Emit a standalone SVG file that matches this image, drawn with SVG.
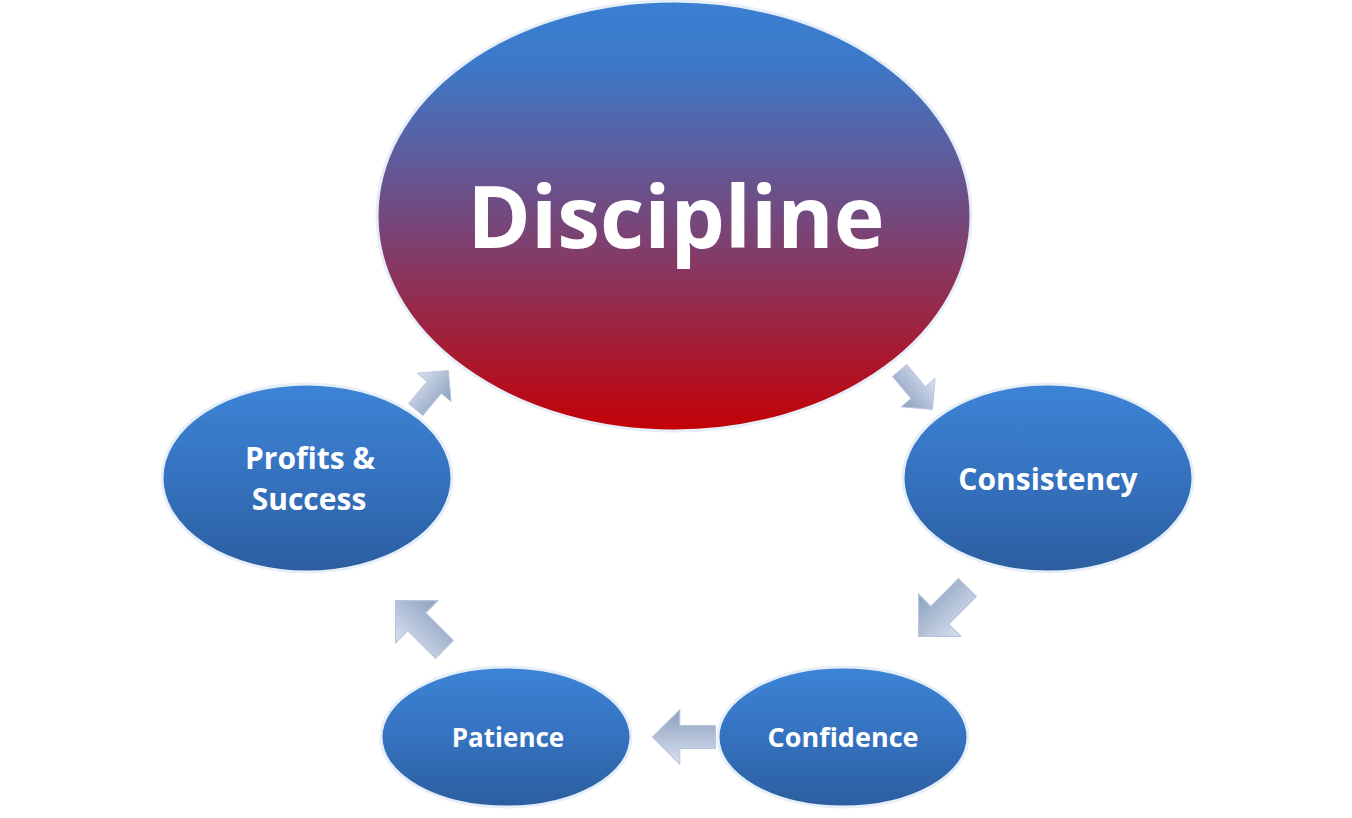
<svg xmlns="http://www.w3.org/2000/svg" width="1352" height="818" viewBox="0 0 1352 818">
<defs>
<linearGradient id="gBig" x1="0" y1="0" x2="0" y2="1">
<stop offset="0" stop-color="#3a80d2"/><stop offset="0.15" stop-color="#3d78c8"/><stop offset="0.5" stop-color="#74497e"/><stop offset="1" stop-color="#c40006"/>
</linearGradient>
<linearGradient id="gBlue" x1="0" y1="0" x2="0" y2="1">
<stop offset="0" stop-color="#3d84d6"/><stop offset="0.5" stop-color="#3572bf"/><stop offset="1" stop-color="#2b5e9f"/>
</linearGradient>
<linearGradient id="gArr" x1="0" y1="0" x2="0" y2="1">
<stop offset="0" stop-color="#d8e1ee"/><stop offset="1" stop-color="#8c9fbf"/>
</linearGradient>
<path id="arr" d="M-30,-11 L4,-11 L4,-26 L30,0 L4,26 L4,11 L-30,11 Z"/>
</defs>
<style>
.node{stroke:#e6eef8;stroke-width:3}
.t{font-family:"Open Sans","Liberation Sans",sans-serif;font-weight:bold;fill:#fff;text-anchor:middle}
.a{fill:url(#gArr);stroke:#b8c6dc;stroke-width:1}
</style>
<rect width="1352" height="818" fill="#fff"/>
<g id="connectors">
<use href="#arr" class="a" transform="translate(916,390) rotate(50) scale(0.85)"/>
<use href="#arr" class="a" transform="translate(943,612) rotate(135) scale(1.15)"/>
<use href="#arr" class="a" transform="translate(684,737) rotate(180) scale(1.05)"/>
<use href="#arr" class="a" transform="translate(420,625) rotate(-135) scale(1.15)"/>
<use href="#arr" class="a" transform="translate(432,390) rotate(-50) scale(0.85)"/>
</g>
<g id="discipline"><ellipse class="node" cx="674" cy="216" rx="297" ry="215" fill="url(#gBig)"/>
<text class="t" x="676" y="248" font-size="86">Discipline</text></g>
<g id="consistency"><ellipse class="node" cx="1048" cy="478" rx="145" ry="94" fill="url(#gBlue)"/>
<text class="t" x="1048" y="490" font-size="30">Consistency</text></g>
<g id="confidence"><ellipse class="node" cx="843" cy="737" rx="125" ry="70" fill="url(#gBlue)"/>
<text class="t" x="843" y="747" font-size="27">Confidence</text></g>
<g id="patience"><ellipse class="node" cx="506" cy="737" rx="125" ry="70" fill="url(#gBlue)"/>
<text class="t" x="508" y="747" font-size="26">Patience</text></g>
<g id="profits"><ellipse class="node" cx="307" cy="478" rx="145" ry="94" fill="url(#gBlue)"/>
<text class="t" x="310" y="469" font-size="30">Profits &amp;</text>
<text class="t" x="309" y="510" font-size="30">Success</text></g>
</svg>
